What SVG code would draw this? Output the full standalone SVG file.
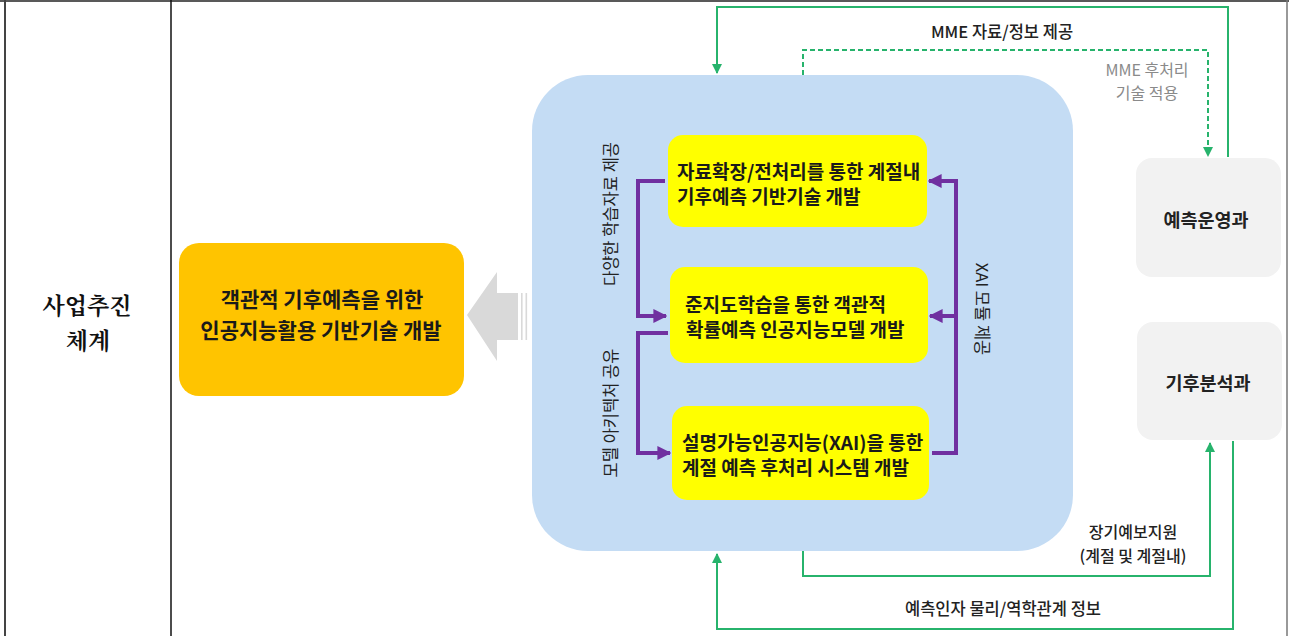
<svg xmlns="http://www.w3.org/2000/svg" width="1289" height="636" viewBox="0 0 1289 636">
<defs>
<style>
text{font-family:"Noto Sans CJK KR","Noto Sans",sans-serif;dominant-baseline:central;}
.g{fill:none;stroke:#27B36C;stroke-width:2;}
.gd{fill:none;stroke:#27B36C;stroke-width:2;stroke-dasharray:5 3;}
.p{fill:none;stroke:#7030A0;stroke-width:4;}
.yb{fill:#FFFF00;}
.yt{font-size:19px;font-weight:700;fill:#1a1a1a;}
.vt{font-size:16.5px;fill:#222;}
.lb{font-size:16.5px;font-weight:500;fill:#222;}
</style>
<marker id="ga" viewBox="0 0 10 10" refX="9" refY="5" markerWidth="5" markerHeight="5" orient="auto"><path d="M0,0 L10,5 L0,10 z" fill="#27B36C"/></marker>
<marker id="pa" viewBox="0 0 10 10" refX="9" refY="5" markerWidth="3.5" markerHeight="3.5" orient="auto"><path d="M0,0 L10,5 L0,10 z" fill="#7030A0"/></marker>
</defs>

<g id="table">
<line x1="0" y1="1" x2="1289" y2="1" stroke="#222" stroke-width="1.5"/>
<line x1="5" y1="0" x2="5" y2="636" stroke="#444" stroke-width="2"/>
<line x1="171" y1="0" x2="171" y2="636" stroke="#111" stroke-width="1.5"/>
<line x1="1287" y1="0" x2="1287" y2="636" stroke="#777" stroke-width="1.5"/>
<text x="87" y="304" text-anchor="middle" style="font-size:23px;font-weight:700;fill:#111;font-family:'Noto Serif CJK KR','Noto Sans CJK KR',serif">사업추진</text>
<text x="88" y="339" text-anchor="middle" style="font-size:23px;font-weight:700;fill:#111;font-family:'Noto Serif CJK KR','Noto Sans CJK KR',serif">체계</text>
</g>

<g id="goal">
<rect x="179" y="243" width="285" height="153" rx="20" fill="#FFC400"/>
<text x="322" y="298" text-anchor="middle" style="font-size:21px;font-weight:700;fill:#1a1a1a">객관적 기후예측을 위한</text>
<text x="321" y="329" text-anchor="middle" style="font-size:21px;font-weight:700;fill:#1a1a1a">인공지능활용 기반기술 개발</text>
</g>

<g id="bigarrow">
<polygon points="467,315 497,272 497,293 518,293 518,340 497,340 497,361" fill="#D9D9D9"/>
<rect x="521" y="293" width="1.6" height="47" fill="#D9D9D9"/>
<rect x="525.5" y="293" width="1.6" height="47" fill="#D9D9D9"/>
</g>

<g id="project">
<rect x="532" y="75" width="541" height="476" rx="56" fill="#C4DCF4"/>
</g>

<g id="task1">
<rect class="yb" x="668" y="135" width="259" height="92" rx="15"/>
<text class="yt" x="677" y="170">자료확장/전처리를 통한 계절내</text>
<text class="yt" x="677" y="195">기후예측 기반기술 개발</text>
</g>
<g id="task2">
<rect class="yb" x="670" y="267" width="258" height="96" rx="15"/>
<text class="yt" x="685" y="303">준지도학습을 통한 객관적</text>
<text class="yt" x="686" y="328">확률예측 인공지능모델 개발</text>
</g>
<g id="task3">
<rect class="yb" x="672" y="406" width="257" height="94" rx="15"/>
<text class="yt" x="682" y="441">설명가능인공지능(XAI)을 통한</text>
<text class="yt" x="682" y="466">계절 예측 후처리 시스템 개발</text>
</g>

<g id="ops">
<rect x="1136" y="158" width="145" height="119" rx="16" fill="#F2F2F2"/>
<text x="1206" y="219" text-anchor="middle" style="font-size:18.5px;font-weight:700;fill:#222">예측운영과</text>
</g>
<g id="climate">
<rect x="1137" y="322" width="145" height="118" rx="16" fill="#F2F2F2"/>
<text x="1208" y="382" text-anchor="middle" style="font-size:18.5px;font-weight:700;fill:#222">기후분석과</text>
</g>

<g id="connectors">
<polyline class="p" points="665,181 638,181 638,316 666,316" marker-end="url(#pa)"/>
<polyline class="p" points="668,333 638,333 638,453 670,453" marker-end="url(#pa)"/>
<polyline class="p" points="932,453 956,453 956,181 929,181" marker-end="url(#pa)"/>
<polyline class="p" points="956,316 930,316" marker-end="url(#pa)"/>

<polyline class="g" points="1228,157 1228,7 717,7 717,73" marker-end="url(#ga)"/>
<polyline class="gd" points="803,75 803,50 1208,50 1208,156" marker-end="url(#ga)"/>
<polyline class="g" points="803,551 803,576 1210,576 1210,443" marker-end="url(#ga)"/>
<polyline class="g" points="1233,441 1233,629 717,629 717,554" marker-end="url(#ga)"/>
</g>

<g id="labels">
<text class="lb" x="1002" y="31" text-anchor="middle">MME 자료/정보 제공</text>
<text x="1147" y="69" text-anchor="middle" style="font-size:16px;fill:#8a8a8a">MME 후처리</text>
<text x="1147" y="92" text-anchor="middle" style="font-size:16px;fill:#8a8a8a">기술 적용</text>
<text x="1133" y="531" text-anchor="middle" style="font-size:16px;font-weight:500;fill:#222">장기예보지원</text>
<text x="1133" y="555" text-anchor="middle" style="font-size:16px;font-weight:500;fill:#222">(계절 및 계절내)</text>
<text class="lb" x="1003" y="608" text-anchor="middle">예측인자 물리/역학관계 정보</text>
<text class="vt" x="0" y="0" text-anchor="middle" transform="translate(610,214) rotate(-90)">다양한 학습자료 제공</text>
<text class="vt" x="0" y="0" text-anchor="middle" transform="translate(610,413) rotate(-90)">모델 아키텍처 공유</text>
<text class="vt" x="0" y="0" text-anchor="middle" transform="translate(983,309) rotate(90)">XAI 모듈 제공</text>
</g>
</svg>
